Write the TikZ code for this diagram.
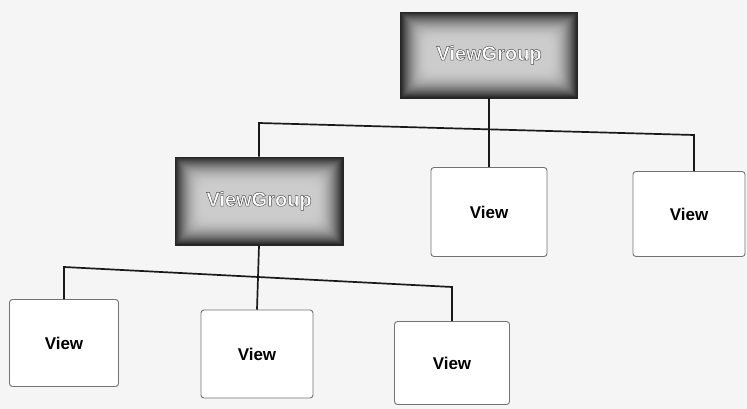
\documentclass[tikz,border=0pt]{standalone}
\usepackage{fontspec}
\setmainfont{Liberation Sans}
\newcommand{\outlinedtext}[1]{\textcolor{white}{\special{pdf:literal direct 2 Tr 0.45 w 0.3 G}#1\special{pdf:literal direct 0 Tr}}}
\begin{document}
\begin{tikzpicture}[x=1pt,y=-1pt,
  vignette/.style={path picture={
    \foreach \i in {0,...,40}{
      \pgfmathsetmacro{\shade}{20+66*(1-\i/40)^2}
      \pgfmathsetmacro{\rc}{0.3*\i}
      \fill[black!\shade, rounded corners=\rc pt]
        ([shift={(\i*0.7pt,\i*0.7pt)}]path picture bounding box.south west)
        rectangle
        ([shift={(-\i*0.7pt,-\i*0.7pt)}]path picture bounding box.north east);
    }}},
  groupbox/.style={rectangle, inner sep=0pt, vignette, draw=black!85, line width=0.8pt,
    font=\fontsize{20}{22}\selectfont\bfseries},
  viewbox/.style={rectangle, inner sep=0pt, rounded corners=3pt, fill=white,
    draw=black!55, line width=0.9pt, font=\fontsize{17}{19}\selectfont\bfseries},
  conn/.style={line width=1.7pt, black!90}]
\fill[black!4] (0,0) rectangle (747,409);
\useasboundingbox (0,0) rectangle (747,409);

\node[groupbox, minimum width=177pt, minimum height=86pt] (tg) at (489,55)
  {\outlinedtext{ViewGroup}};
\node[groupbox, minimum width=168pt, minimum height=88pt] (vg) at (259,201)
  {\outlinedtext{ViewGroup}};
\node[viewbox, minimum width=116pt, minimum height=89pt] (r1) at (489,212) {View};
\node[viewbox, minimum width=112pt, minimum height=85pt] (r2) at (689,214) {View};
\node[viewbox, minimum width=109pt, minimum height=87pt] (b1) at (64,343) {View};
\node[viewbox, minimum width=112pt, minimum height=88pt] (b2) at (257,354) {View};
\node[viewbox, minimum width=115pt, minimum height=83pt] (b3) at (452,363) {View};

\coordinate (tl) at (259,123);
\coordinate (tr) at (694,135);
\coordinate (bl) at (64,267);
\coordinate (br) at (452,287);

\draw[conn] (vg.north) -- (tl) -- (tr) -- (tr |- r2.north);
\draw[conn] (tg.south) -- (r1.north);
\draw[conn] (b1.north) -- (bl) -- (br) -- (b3.north);
\draw[conn] (vg.south) -- (b2.north);
\end{tikzpicture}
\end{document}
